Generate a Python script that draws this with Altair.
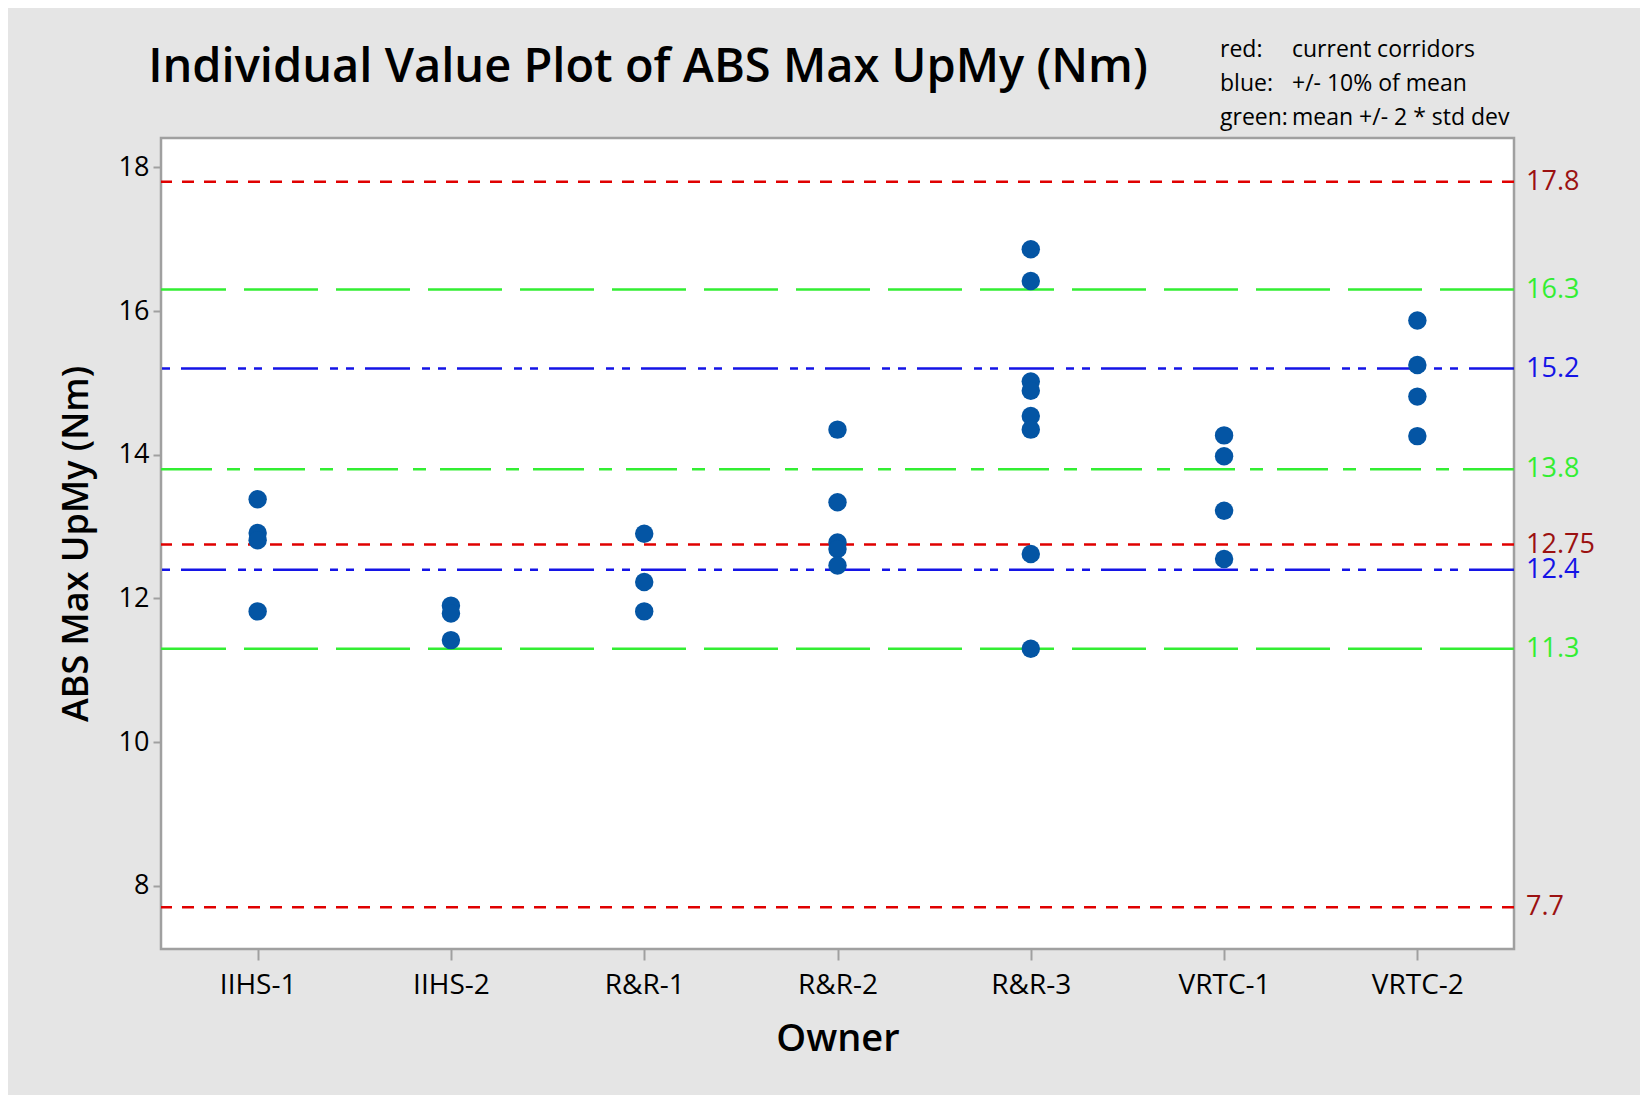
import altair as alt
import pandas as pd

# ---------------- data ----------------
owners = ["IIHS-1", "IIHS-2", "R&R-1", "R&R-2", "R&R-3", "VRTC-1", "VRTC-2"]
iihs1 = [13.38, 12.91, 12.81, 11.82]
iihs2 = [11.90, 11.79, 11.42]
rr1 = [12.90, 12.23, 11.82]
rr2 = [14.35, 13.34, 12.78, 12.69, 12.46]
rr3 = [16.86, 16.42, 15.02, 14.89, 14.54, 14.35, 12.62, 11.30]
vrtc1 = [14.27, 13.98, 13.22, 12.55]
vrtc2 = [15.87, 15.25, 14.81, 14.26]

red_lines = [17.8, 12.75, 7.7]
red_labels = ["17.8", "12.75", "7.7"]
blue_lines = [15.2, 12.4]
blue_labels = ["15.2", "12.4"]
green_long = [16.3, 11.3]
green_long_labels = ["16.3", "11.3"]
green_dashdot = [13.8]
green_dashdot_labels = ["13.8"]

y_ticks = [8, 10, 12, 14, 16, 18]
legend_keys = ["red:", "blue:", "green:"]
legend_desc = ["current corridors", "+/- 10% of mean", "mean +/- 2 * std dev"]

title_text = "Individual Value Plot of ABS Max UpMy (Nm)"
y_title = "ABS Max UpMy (Nm)"
x_title = "Owner"

# ---------------- build tables ----------------
groups = [iihs1, iihs2, rr1, rr2, rr3, vrtc1, vrtc2]
rows = []
for o, vals in zip(owners, groups):
    for v in vals:
        rows.append({"Owner": o, "value": v})
points_df = pd.DataFrame(rows)

W, H = 1353, 811
FONT = "Open Sans"
yscale = alt.Scale(domain=[7.12, 18.41], nice=False, zero=False)

points = alt.Chart(points_df).mark_circle(size=340, opacity=1, color="#0455A4").encode(
    x=alt.X("Owner:N", scale=alt.Scale(type="point", padding=0.5, domain=owners),
            sort=owners,
            axis=alt.Axis(title=x_title, labelAngle=0)),
    y=alt.Y("value:Q", scale=yscale,
            axis=alt.Axis(title=y_title, values=y_ticks, format="d")),
)


def rules(vals, color, dash):
    return alt.Chart(pd.DataFrame({"v": vals})).mark_rule(
        color=color, strokeWidth=2.5, strokeDash=dash
    ).encode(y=alt.Y("v:Q", scale=yscale))


def labels(vals, labs, color):
    return alt.Chart(pd.DataFrame({"v": vals, "lab": labs})).mark_text(
        align="left", baseline="middle", fontSize=27, font=FONT, color=color
    ).encode(x=alt.value(W + 12), y=alt.Y("v:Q", scale=yscale), text="lab:N")


red_c, blue_c, green_c = "#E00000", "#1414E6", "#33EE33"

layers = [
    rules(red_lines, red_c, [12, 10]),
    rules(green_long, green_c, [74, 18]),
    rules(green_dashdot, green_c, [51, 14, 13, 15]),
    rules(blue_lines, blue_c, [45, 11, 8, 8, 8, 12]),
    points,
    labels(red_lines, red_labels, "#9B1111"),
    labels(green_long, green_long_labels, green_c),
    labels(green_dashdot, green_dashdot_labels, green_c),
    labels(blue_lines, blue_labels, blue_c),
]

one = pd.DataFrame({"a": [0]})
title_mark = alt.Chart(one).mark_text(
    text=title_text, fontSize=47, fontWeight=600, font=FONT, align="center",
    baseline="alphabetic", color="black"
).encode(x=alt.value(487), y=alt.value(-56))
leg_keys = alt.Chart(one).mark_text(
    text=legend_keys, fontSize=23, font=FONT, align="left", baseline="alphabetic",
    lineHeight=34, color="black"
).encode(x=alt.value(1059), y=alt.value(-81))
leg_desc = alt.Chart(one).mark_text(
    text=legend_desc, fontSize=23, font=FONT, align="left", baseline="alphabetic",
    lineHeight=34, color="black"
).encode(x=alt.value(1131), y=alt.value(-81))

chart = alt.layer(*layers, title_mark, leg_keys, leg_desc).properties(
    width=W, height=H,
    autosize=alt.AutoSizeParams(type="none"),
    padding={"left": 153, "top": 130, "right": 126, "bottom": 146},
    background="#E5E5E5",
).configure_view(
    fill="white", stroke="#A0A0A0", strokeWidth=2.5
).configure_axis(
    domain=False, grid=False, tickColor="#A0A0A0", tickWidth=2,
    labelFont=FONT, titleFont=FONT, labelColor="black", titleColor="black",
).configure_axisY(
    labelFontSize=27, tickSize=8, labelPadding=4,
    titleFontSize=36, titleFontWeight=600, titleAngle=-90, titleAlign="center",
    titleBaseline="middle", titleX=-85, titleY=H / 2,
).configure_axisX(
    labelFontSize=28, tickSize=11, labelPadding=11,
    titleFontSize=38, titleFontWeight=600, titleAlign="center", titleBaseline="middle",
    titleX=W / 2, titleY=90,
)

chart.save("out.html", embed_options={"renderer": "svg", "actions": False})
